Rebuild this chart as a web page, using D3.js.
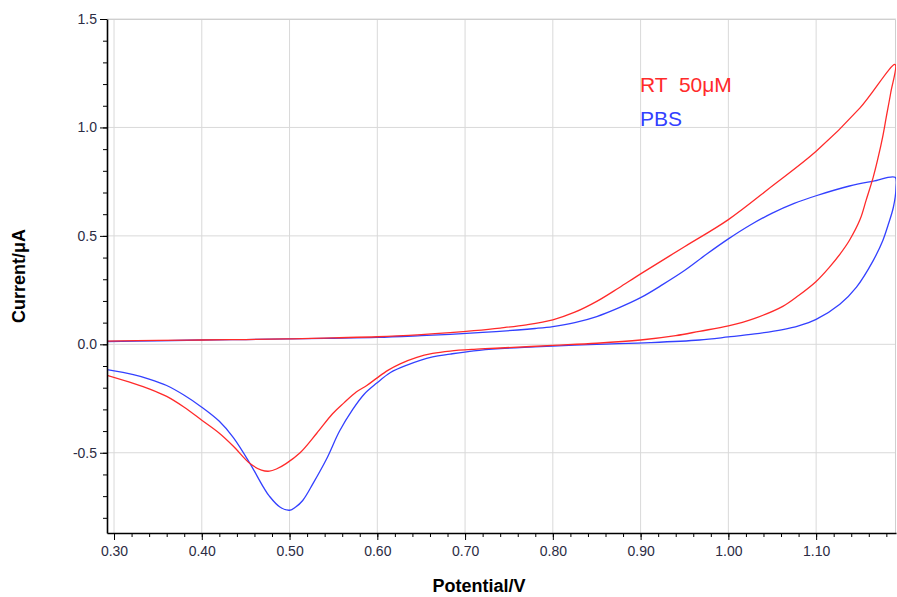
<!DOCTYPE html>
<html>
<head>
<meta charset="utf-8">
<script src="https://cdn.jsdelivr.net/npm/d3@7"></script>
<style>
  body { margin: 0; background: #fff; }
  text { font-family: Arial, "Liberation Sans", sans-serif; }
</style>
</head>
<body>
<div class="chart"></div>
<script>
// RT 50uM scan: forward branch then return branch
const rtPotential = [0.292, 0.35, 0.40, 0.45, 0.50, 0.55, 0.60, 0.65, 0.683, 0.71, 0.74, 0.77, 0.80, 0.825, 0.85, 0.875, 0.90, 0.95, 1.00, 1.05, 1.10, 1.15, 1.19,
  1.185, 1.180, 1.176, 1.170, 1.165, 1.157, 1.150, 1.138, 1.127, 1.115, 1.10, 1.08, 1.062, 1.03, 1.00, 0.967, 0.94, 0.90, 0.85, 0.80, 0.74, 0.71, 0.683,
  0.663, 0.645, 0.626, 0.612, 0.599, 0.588, 0.576, 0.562, 0.549, 0.531, 0.512, 0.496, 0.485, 0.477, 0.468, 0.455, 0.436, 0.42, 0.40, 0.38, 0.36, 0.34, 0.322, 0.292];
const rtCurrent = [0.015, 0.018, 0.02, 0.022, 0.025, 0.03, 0.035, 0.045, 0.054, 0.063, 0.075, 0.09, 0.113, 0.148, 0.198, 0.26, 0.325, 0.45, 0.575, 0.73, 0.89, 1.09, 1.29,
  1.16, 1.05, 0.96, 0.85, 0.77, 0.665, 0.575, 0.48, 0.415, 0.355, 0.29, 0.225, 0.175, 0.12, 0.085, 0.06, 0.04, 0.02, 0.005, -0.005, -0.017, -0.023, -0.031,
  -0.042, -0.06, -0.09, -0.12, -0.157, -0.19, -0.22, -0.27, -0.32, -0.41, -0.50, -0.55, -0.575, -0.585, -0.58, -0.55, -0.47, -0.41, -0.35, -0.29, -0.24, -0.205, -0.18, -0.143];

// PBS scan
const pbsPotential = [0.292, 0.35, 0.40, 0.45, 0.50, 0.55, 0.60, 0.65, 0.683, 0.72, 0.76, 0.78, 0.80, 0.825, 0.85, 0.875, 0.90, 0.925, 0.95, 0.975, 1.00, 1.025, 1.05, 1.075, 1.10, 1.138, 1.165, 1.19,
  1.191, 1.188, 1.182, 1.176, 1.165, 1.146, 1.127, 1.10, 1.08, 1.062, 1.03, 1.00, 0.967, 0.911, 0.85, 0.80, 0.74, 0.71, 0.683,
  0.663, 0.633, 0.615, 0.599, 0.585, 0.572, 0.557, 0.542, 0.527, 0.515, 0.507, 0.50, 0.489, 0.477, 0.47, 0.455, 0.436, 0.42, 0.40, 0.38, 0.36, 0.34, 0.322, 0.292];
const pbsCurrent = [0.013, 0.016, 0.02, 0.022, 0.025, 0.028, 0.032, 0.04, 0.046, 0.055, 0.066, 0.073, 0.082, 0.1, 0.128, 0.168, 0.215, 0.275, 0.34, 0.415, 0.486, 0.55, 0.605, 0.65, 0.685, 0.73, 0.752, 0.77,
  0.72, 0.632, 0.55, 0.479, 0.386, 0.264, 0.185, 0.115, 0.085, 0.068, 0.048, 0.034, 0.02, 0.008, 0.0, -0.008, -0.02, -0.03, -0.045,
  -0.058, -0.097, -0.13, -0.18, -0.23, -0.30, -0.40, -0.53, -0.64, -0.72, -0.75, -0.765, -0.75, -0.70, -0.657, -0.55, -0.43, -0.355, -0.29, -0.235, -0.19, -0.16, -0.14, -0.117];

const xMajor = [0.30, 0.40, 0.50, 0.60, 0.70, 0.80, 0.90, 1.00, 1.10];
const yMajor = [-0.5, 0.0, 0.5, 1.0, 1.5];
const seriesNames = ['RT  50μM', 'PBS'];
const seriesColors = ['#ff2a2a', '#3340ff'];

const margin = ({top: 19, right: 1, bottom: 64, left: 107});
const width = 897 - margin.left - margin.right;
const height = 597 - margin.top - margin.bottom;

const svg = d3.select('.chart')
  .append('svg')
  .attr('width', 897)
  .attr('height', 597)
  .append('g')
  .attr('transform', 'translate(' + margin.left + ',' + margin.top + ')');

const xScale = d3.scaleLinear().domain([0.292, 1.191]).range([0, width]);
const yScale = d3.scaleLinear().domain([-0.87, 1.5]).range([height, 0]);

// grid
svg.append('g').selectAll('line')
  .data(xMajor)
  .enter()
  .append('line')
  .attr('x1', d => xScale(d)).attr('x2', d => xScale(d))
  .attr('y1', 0).attr('y2', height)
  .attr('stroke', '#d9d9d9');

svg.append('g').selectAll('line')
  .data(yMajor)
  .enter()
  .append('line')
  .attr('x1', 0).attr('x2', width)
  .attr('y1', d => yScale(d)).attr('y2', d => yScale(d))
  .attr('stroke', '#d9d9d9');

// top and right border
svg.append('path')
  .attr('d', 'M0,0.5H' + (width - 0.5) + 'V' + height)
  .attr('fill', 'none')
  .attr('stroke', '#cfcfcf');

// curves
const line = d3.line()
  .x(d => xScale(d[0]))
  .y(d => yScale(d[1]))
  .curve(d3.curveCatmullRom.alpha(0.5));

svg.append('clipPath').attr('id', 'clip')
  .append('rect').attr('width', width).attr('height', height);

const series = [
  d3.zip(rtPotential, rtCurrent),
  d3.zip(pbsPotential, pbsCurrent)
];

// PBS under, RT on top
[1, 0].forEach(i => {
  svg.append('path')
    .datum(series[i])
    .attr('clip-path', 'url(#clip)')
    .attr('fill', 'none')
    .attr('stroke', seriesColors[i])
    .attr('stroke-width', 1.3)
    .attr('d', line);
});

// axes
const yMinor = d3.range(-8, 16).map(d => d / 10);
const xMinor = d3.range(15, 60).map(d => d / 50);

const labelColor = '#2c2c44';

svg.append('g')
  .attr('class', 'axis y-minor')
  .call(d3.axisLeft(yScale).tickValues(yMinor).tickSize(4).tickFormat(''))
  .call(g => g.select('.domain').remove());

const yAxis = svg.append('g')
  .attr('class', 'axis y-axis')
  .call(d3.axisLeft(yScale).tickValues(yMajor).tickSize(7).tickSizeOuter(0).tickPadding(3).tickFormat(d => d.toFixed(1)));
yAxis.select('.domain').attr('stroke-width', 1.6);

svg.append('g')
  .attr('class', 'axis x-minor')
  .attr('transform', 'translate(0,' + height + ')')
  .call(d3.axisBottom(xScale).tickValues(xMinor).tickSize(4).tickFormat(''))
  .call(g => g.select('.domain').remove());

const xAxis = svg.append('g')
  .attr('class', 'axis x-axis')
  .attr('transform', 'translate(0,' + height + ')')
  .call(d3.axisBottom(xScale).tickValues(xMajor).tickSize(7).tickSizeOuter(0).tickPadding(6).tickFormat(d => d.toFixed(2)));
xAxis.select('.domain').attr('stroke-width', 1.6);

svg.selectAll('.axis text')
  .attr('font-size', 14)
  .attr('font-family', 'Arial, "Liberation Sans", sans-serif')
  .attr('fill', labelColor);

// axis titles
svg.append('text')
  .attr('transform', 'translate(' + (25 - margin.left) + ',' + (height / 2) + ') rotate(-90)')
  .attr('text-anchor', 'middle')
  .attr('font-weight', 'bold')
  .attr('font-size', 18)
  .text('Current/μA');

svg.append('text')
  .attr('x', 479 - margin.left)
  .attr('y', 592 - margin.top)
  .attr('text-anchor', 'middle')
  .attr('font-weight', 'bold')
  .attr('font-size', 18)
  .text('Potential/V');

// legend
svg.selectAll('.legendText')
  .data(seriesNames)
  .enter()
  .append('text')
  .attr('x', 640 - margin.left)
  .attr('y', (d, i) => 92 - margin.top + i * 34)
  .attr('font-size', 21)
  .style('white-space', 'pre')
  .attr('fill', (d, i) => seriesColors[i])
  .text(d => d);
</script>
</body>
</html>
